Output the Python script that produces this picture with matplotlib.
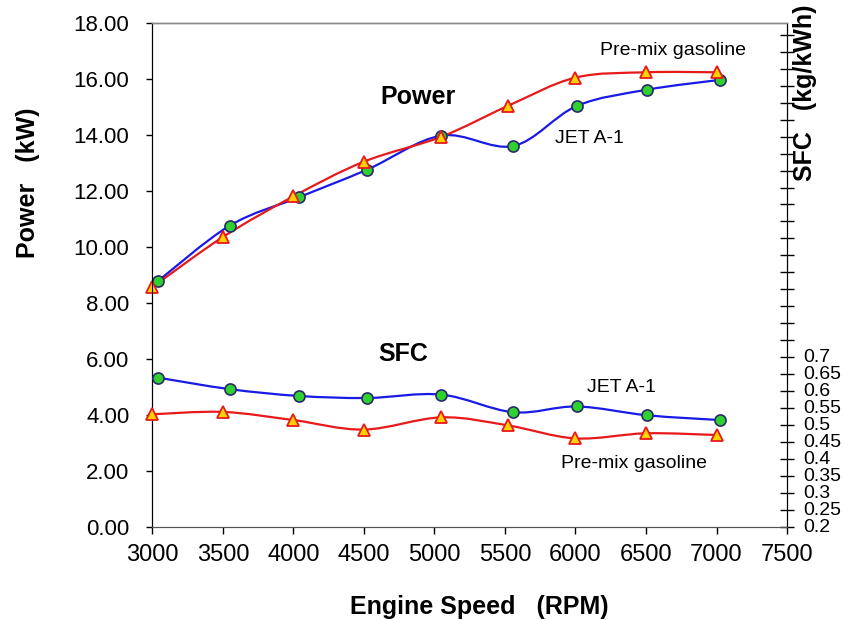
import numpy as np
import matplotlib
matplotlib.use("Agg")
import matplotlib.pyplot as plt
from matplotlib.path import Path
from matplotlib.patches import PathPatch

plt.rcParams['font.family'] = ['Liberation Sans', 'DejaVu Sans']

# ---- data ----
rpm_jet = [3040, 3550, 4040, 4525, 5050, 5560, 6010, 6510, 7025]
power_jet = [8.78, 10.76, 11.77, 12.76, 13.97, 13.60, 15.03, 15.61, 15.96]
sfc_jet = [0.640, 0.606, 0.586, 0.580, 0.590, 0.538, 0.555, 0.529, 0.515]

rpm_gas = [3000, 3500, 4000, 4500, 5050, 5525, 6000, 6500, 7000]
power_gas = [8.56, 10.35, 11.80, 13.04, 13.93, 15.04, 16.04, 16.23, 16.23]
sfc_gas = [0.532, 0.539, 0.515, 0.487, 0.523, 0.499, 0.461, 0.476, 0.471]

xticks = [3000, 3500, 4000, 4500, 5000, 5500, 6000, 6500, 7000, 7500]
left_ticks = [0, 2, 4, 6, 8, 10, 12, 14, 16, 18]

BLUE = '#1a1ae6'
RED = '#e8191b'
GREEN = '#2fd12f'
CEDGE = '#2a2a6a'
YELLOW = '#ffd200'


def smooth_path(xs, ys):
    pts = np.column_stack([xs, ys]).astype(float)
    n = len(pts)
    verts = [pts[0]]
    codes = [Path.MOVETO]
    for i in range(n - 1):
        p0 = pts[i - 1] if i > 0 else pts[i]
        p1 = pts[i]
        p2 = pts[i + 1]
        p3 = pts[i + 2] if i + 2 < n else pts[i + 1]
        c1 = p1 + (p2 - p0) / 6.0
        c2 = p2 - (p3 - p1) / 6.0
        verts += [c1, c2, p2]
        codes += [Path.CURVE4] * 3
    return Path(verts, codes)


fig = plt.figure(figsize=(8.44, 6.20), dpi=100)
ax = fig.add_axes([0.1805, 0.15, 0.752, 0.8134])
ax2 = ax.twinx()

ax.set_xlim(3000, 7500)
ax.set_ylim(0, 18)
ax2.set_ylim(0.2, 0.2 + 18 * (0.5 / (170 / 28.06)))

# power lines
ax.add_patch(PathPatch(smooth_path(rpm_jet, power_jet), fill=False, edgecolor=BLUE, lw=1.6, zorder=3))
ax.add_patch(PathPatch(smooth_path(rpm_gas, power_gas), fill=False, edgecolor=RED, lw=1.6, zorder=3))
ax.plot(rpm_jet, power_jet, ls='none', marker='o', ms=8, mfc=GREEN, mec=CEDGE, mew=1.2, zorder=5, clip_on=False)
ax.plot(rpm_gas, power_gas, ls='none', marker='^', ms=8, mfc=YELLOW, mec=RED, mew=1.3, zorder=6, clip_on=False)

# sfc lines
ax2.add_patch(PathPatch(smooth_path(rpm_jet, sfc_jet), fill=False, edgecolor=BLUE, lw=1.6, zorder=3))
ax2.add_patch(PathPatch(smooth_path(rpm_gas, sfc_gas), fill=False, edgecolor=RED, lw=1.6, zorder=3))
ax2.plot(rpm_jet, sfc_jet, ls='none', marker='o', ms=8, mfc=GREEN, mec=CEDGE, mew=1.2, zorder=5, clip_on=False)
ax2.plot(rpm_gas, sfc_gas, ls='none', marker='^', ms=8, mfc=YELLOW, mec=RED, mew=1.3, zorder=6, clip_on=False)

# axes styling
ax.set_xticks(xticks)
ax.set_xticklabels([str(v) for v in xticks], fontsize=17)
ax.set_yticks(left_ticks)
ax.set_yticklabels([f"{v:.2f}" for v in left_ticks], fontsize=16)
ax.tick_params(axis='x', direction='out', length=5, width=1, colors='black', pad=7)
ax.tick_params(axis='y', direction='out', length=4.5, width=1, colors='black', pad=12)

rt = np.arange(0.2, 1.70, 0.05)
ax2.set_yticks(rt)
ax2.set_yticklabels([(f"{v:g}" if v <= 0.7001 else "") for v in np.round(rt, 2)], fontsize=14)
ax2.tick_params(axis='y', direction='inout', length=10, width=1, pad=7)
for lab in ax2.get_yticklabels():
    lab.set_va('center')

for a in (ax, ax2):
    a.spines['top'].set_color('#888888')
    a.spines['top'].set_linewidth(1.0)
    a.spines['left'].set_color('black')
    a.spines['right'].set_color('black')
    a.spines['bottom'].set_color('#555555')

fig.text(479 / 844, 1 - 607 / 620, "Engine Speed   (RPM)", fontsize=18, fontweight='bold',
         ha='center', va='center')
fig.text(28 / 844, 1 - 183 / 620, "Power   (kW)", rotation=90, fontsize=18,
         fontweight='bold', ha='center', va='center')
fig.text(805 / 844, 1 - 93 / 620, "SFC   (kg/kWh)", rotation=90, fontsize=18,
         fontweight='bold', ha='center', va='center')

# annotations
ax.text(4880, 15.36, "Power", fontsize=18, fontweight='bold', ha='center', va='center')
ax.text(4779, 6.17, "SFC", fontsize=18, fontweight='bold', ha='center', va='center')
ax.text(6689, 17.0, "Pre-mix gasoline", fontsize=14, ha='center', va='center')
ax.text(6099, 13.86, "JET A-1", fontsize=14, ha='center', va='center')
ax.text(6326, 4.99, "JET A-1", fontsize=14, ha='center', va='center')
ax.text(6418, 2.25, "Pre-mix gasoline", fontsize=14, ha='center', va='center')

fig.savefig("out.png", dpi=100)
